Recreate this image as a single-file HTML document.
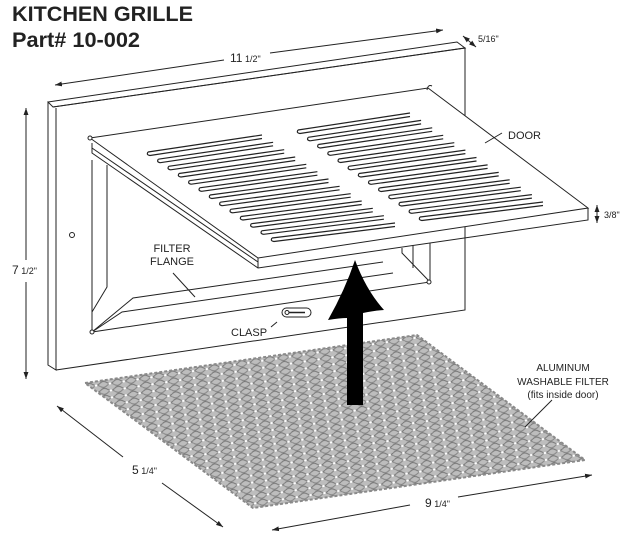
<!DOCTYPE html>
<html><head><meta charset="utf-8"><style>
html,body{margin:0;padding:0;background:#fff;}
svg{display:block;}
.t{font-family:"Liberation Sans",Arial,sans-serif;fill:#222;}
</style></head><body>
<svg width="630" height="539" viewBox="0 0 630 539" xmlns="http://www.w3.org/2000/svg">
<defs>
<marker id="ah" viewBox="0 0 10 10" refX="10" refY="5" markerWidth="7" markerHeight="7" orient="auto-start-reverse">
<path d="M0,1.5 L10,5 L0,8.5 z" fill="#222"/></marker>
<pattern id="mesh" width="14" height="7" patternUnits="userSpaceOnUse" patternTransform="rotate(-8.5)">
<rect width="14" height="7" fill="#bdbdbd"/>
<path d="M0,2 q3.5,-3 7,0 t7,0" fill="none" stroke="#767676" stroke-width="1"/>
<path d="M0,5 q3.5,3 7,0 t7,0" fill="none" stroke="#848484" stroke-width="1"/>
<ellipse cx="10" cy="3.5" rx="1.4" ry="1" fill="#fff"/>
</pattern>
</defs>

<text class="t" x="12" y="21" font-size="21" font-weight="bold" fill="#111" textLength="181" lengthAdjust="spacingAndGlyphs">KITCHEN GRILLE</text>
<text class="t" x="12" y="47" font-size="21" font-weight="bold" fill="#111" textLength="128" lengthAdjust="spacingAndGlyphs">Part# 10-002</text>

<g fill="none" stroke="#222" stroke-width="1">
<line x1="224" y1="60" x2="55" y2="85" marker-end="url(#ah)"/>
<line x1="270" y1="53" x2="443" y2="30" marker-end="url(#ah)"/>
<line x1="463" y1="36" x2="476" y2="47" marker-start="url(#ah)" marker-end="url(#ah)"/>
<line x1="26" y1="260" x2="26" y2="108" marker-end="url(#ah)"/>
<line x1="26" y1="282" x2="26" y2="379" marker-end="url(#ah)"/>
<line x1="597" y1="205" x2="597" y2="223" marker-start="url(#ah)" marker-end="url(#ah)"/>

<path d="M48,102 L457,42 L465,48 L53,107 Z" fill="#fff"/>
<path d="M48,102 L48,365 L56,370 L56,108"/>
<path d="M53,107 L465,48 L465,310 L56,370"/>

<path d="M92,160 L92,332 L430,282 L430,243"/>
<path d="M107,165 L107,287 L92,312"/>
<path d="M92,332 L122,312 L393,273"/>
<path d="M92,332 L133,298 L383,262"/>
<path d="M430,282 L402,253 L402,248"/>
<path d="M413,245 L413,268"/>
<circle cx="92" cy="332" r="2" fill="#fff"/>
<circle cx="429" cy="282" r="2" fill="#fff"/>
<circle cx="72" cy="235" r="2.5" fill="#fff"/>
<rect x="282" y="308" width="29" height="9" rx="4.5" fill="#fff"/>
<circle cx="287" cy="312.5" r="2"/>
<line x1="289" y1="312.5" x2="305" y2="312.5" stroke-width="1.5"/>
<line x1="271" y1="327" x2="277" y2="322"/>
<line x1="173" y1="273" x2="195" y2="297"/>

<path d="M90,138 L428,88 L588,208 L258,258 Z" fill="#fff"/>
<path d="M92,143 L92,153 L258,268 L588,220 L588,208"/>
<path d="M258,258 L258,268"/>
<path d="M92,148 L258,262"/>
<circle cx="90" cy="138" r="2" fill="#fff"/>
<path d="M427,90 q1,-6 5,-4" />
<line x1="485" y1="143" x2="502" y2="133"/>

<g stroke-width="1.2">
<path d="M148,152 L262,135 M148,152 q-2,3 2,3.5 L262,138.5"/>
<path d="M158.3,159.2 L273.1,142.3 M158.3,159.2 q-2,3 2,3.5 L273.1,145.8"/>
<path d="M168.7,166.3 L284.2,149.7 M168.7,166.3 q-2,3 2,3.5 L284.2,153.2"/>
<path d="M179,173.5 L295.2,157 M179,173.5 q-2,3 2,3.5 L295.2,160.5"/>
<path d="M189.3,180.7 L306.3,164.3 M189.3,180.7 q-2,3 2,3.5 L306.3,167.8"/>
<path d="M199.7,187.8 L317.4,171.7 M199.7,187.8 q-2,3 2,3.5 L317.4,175.2"/>
<path d="M210,195 L328.5,179 M210,195 q-2,3 2,3.5 L328.5,182.5"/>
<path d="M220.3,202.2 L339.6,186.3 M220.3,202.2 q-2,3 2,3.5 L339.6,189.8"/>
<path d="M230.7,209.3 L350.7,193.7 M230.7,209.3 q-2,3 2,3.5 L350.7,197.2"/>
<path d="M241,216.5 L361.7,201 M241,216.5 q-2,3 2,3.5 L361.7,204.5"/>
<path d="M251.3,223.7 L372.8,208.3 M251.3,223.7 q-2,3 2,3.5 L372.8,211.8"/>
<path d="M261.7,230.8 L383.9,215.7 M261.7,230.8 q-2,3 2,3.5 L383.9,219.2"/>
<path d="M272,238 L395,223 M272,238 q-2,3 2,3.5 L395,226.5"/>

<path d="M298,130 L410,113 M298,130 q-2,3 2,3.5 L410,116.5"/>
<path d="M308.2,137.3 L421.1,120.4 M308.2,137.3 q-2,3 2,3.5 L421.1,123.9"/>
<path d="M318.3,144.5 L432.2,127.8 M318.3,144.5 q-2,3 2,3.5 L432.2,131.3"/>
<path d="M328.5,151.8 L443.2,135.3 M328.5,151.8 q-2,3 2,3.5 L443.2,138.8"/>
<path d="M338.7,159 L454.3,142.7 M338.7,159 q-2,3 2,3.5 L454.3,146.2"/>
<path d="M348.8,166.3 L465.4,150.1 M348.8,166.3 q-2,3 2,3.5 L465.4,153.6"/>
<path d="M359,173.5 L476.5,157.5 M359,173.5 q-2,3 2,3.5 L476.5,161"/>
<path d="M369.2,180.8 L487.6,164.9 M369.2,180.8 q-2,3 2,3.5 L487.6,168.4"/>
<path d="M379.3,188 L498.7,172.4 M379.3,188 q-2,3 2,3.5 L498.7,175.9"/>
<path d="M389.5,195.3 L509.7,179.8 M389.5,195.3 q-2,3 2,3.5 L509.7,183.3"/>
<path d="M399.7,202.5 L520.8,187.2 M399.7,202.5 q-2,3 2,3.5 L520.8,190.7"/>
<path d="M409.8,209.8 L531.9,194.6 M409.8,209.8 q-2,3 2,3.5 L531.9,198.1"/>
<path d="M420,217 L543,202 M420,217 q-2,3 2,3.5 L543,205.5"/>
</g>
</g>

<path d="M85,383 L417,335 L585,460 L253,508 Z" fill="url(#mesh)" stroke="#8a8a8a" stroke-width="2" stroke-dasharray="3 2"/>

<path d="M347,405 L347,318 Q340,318 328,320 Q345,290 355,260 Q366,290 384,310 Q372,311 363,313 L363,405 Z" fill="#000"/>

<g fill="none" stroke="#222" stroke-width="1">
<line x1="123" y1="457" x2="57" y2="406" marker-end="url(#ah)"/>
<line x1="162" y1="483" x2="223" y2="527" marker-end="url(#ah)"/>
<line x1="410" y1="505" x2="272" y2="530" marker-end="url(#ah)"/>
<line x1="458" y1="497" x2="592" y2="475" marker-end="url(#ah)"/>
<line x1="552" y1="400" x2="525" y2="427"/>
</g>

<text class="t" x="230" y="62" font-size="12">11<tspan font-size="9"> 1/2"</tspan></text>
<text class="t" x="478" y="42" font-size="9">5/16"</text>
<text class="t" x="12" y="274" font-size="12">7<tspan font-size="9"> 1/2"</tspan></text>
<text class="t" x="604" y="218" font-size="9">3/8"</text>
<text class="t" x="508" y="139" font-size="11">DOOR</text>
<text class="t" x="172" y="252" font-size="11" text-anchor="middle">FILTER</text>
<text class="t" x="172" y="265" font-size="11" text-anchor="middle">FLANGE</text>
<text class="t" x="231" y="336" font-size="11">CLASP</text>
<text class="t" x="563" y="371" font-size="10" text-anchor="middle">ALUMINUM</text>
<text class="t" x="563" y="385" font-size="10" text-anchor="middle">WASHABLE FILTER</text>
<text class="t" x="563" y="398" font-size="10" text-anchor="middle">(fits inside door)</text>
<text class="t" x="132" y="474" font-size="12">5<tspan font-size="9"> 1/4"</tspan></text>
<text class="t" x="425" y="507" font-size="12">9<tspan font-size="9"> 1/4"</tspan></text>
</svg>
</body></html>
